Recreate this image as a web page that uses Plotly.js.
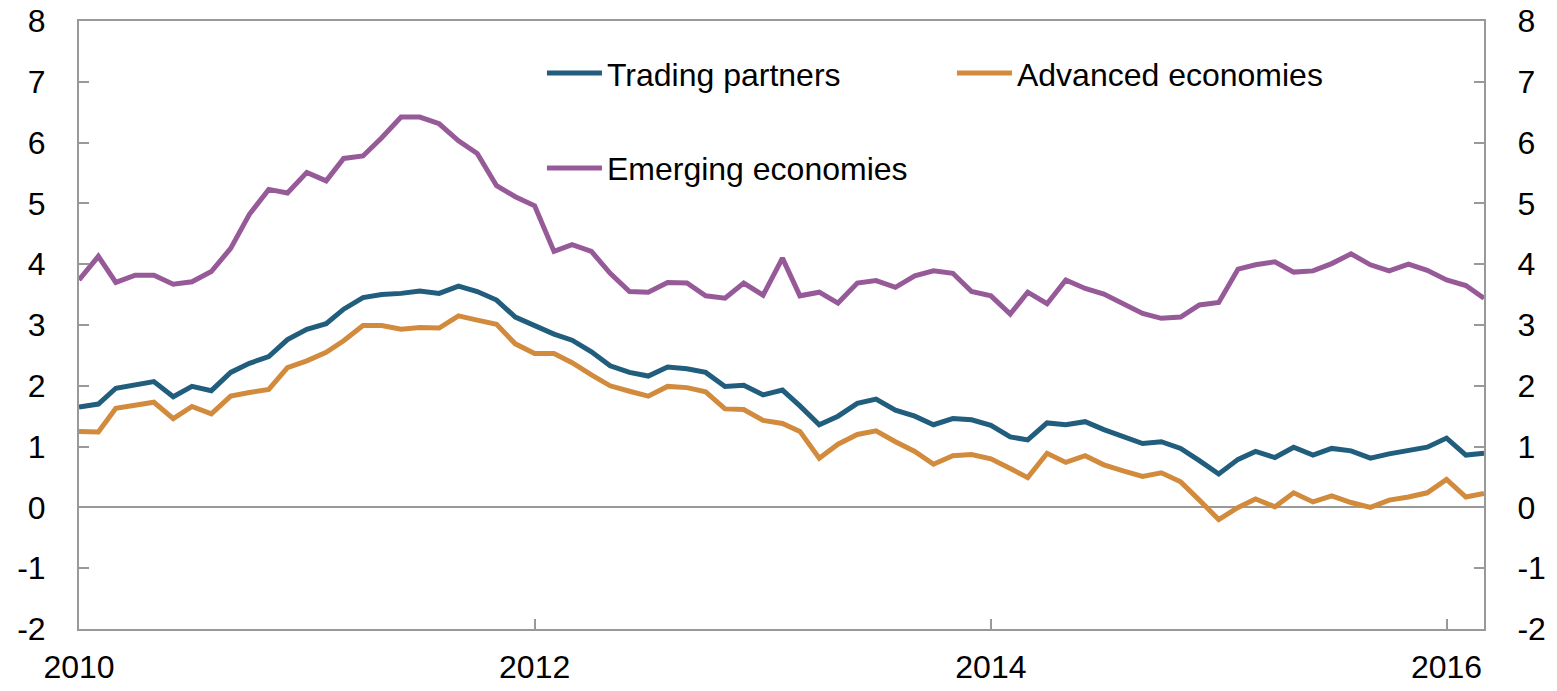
<!DOCTYPE html>
<html>
<head>
<meta charset="utf-8">
<script src="https://cdn.plot.ly/plotly-3.0.1.min.js"></script>
<style>html,body{margin:0;padding:0;background:#fff;}#chart{width:1557px;height:691px;}</style>
</head>
<body>
<div id="chart"></div>
<script>
// Monthly, Jan 2010 - Mar 2016
const startYear = 2010, startMonth = 1, nMonths = 75;
const months = [];
for (let i = 0; i < nMonths; i++) {
  const m = startMonth - 1 + i;
  const y = startYear + Math.floor(m / 12);
  const mm = (m % 12) + 1;
  months.push(y + '-' + String(mm).padStart(2, '0') + '-01');
}

const tradingPartners = [
  1.65, 1.70, 1.96, 2.02, 2.07, 1.82, 1.99, 1.92, 2.22, 2.37, 2.48, 2.76,
  2.93, 3.02, 3.26, 3.45, 3.50, 3.52, 3.56, 3.52, 3.64, 3.55, 3.41, 3.13,
  2.98, 2.85, 2.75, 2.56, 2.33, 2.22, 2.16, 2.31, 2.28, 2.22, 1.99, 2.01,
  1.85, 1.93, 1.67, 1.36, 1.50, 1.71, 1.78, 1.60, 1.50, 1.36, 1.46, 1.44,
  1.35, 1.16, 1.11, 1.39, 1.36, 1.41, 1.28, 1.17, 1.05, 1.08, 0.97, 0.77,
  0.55, 0.79, 0.92, 0.82, 0.99, 0.86, 0.97, 0.93, 0.81, 0.88, 0.94, 0.99,
  1.14, 0.86, 0.89
];

const advancedEconomies = [
  1.25, 1.24, 1.63, 1.68, 1.73, 1.46, 1.66, 1.54, 1.83, 1.89, 1.94, 2.30,
  2.41, 2.55, 2.74, 2.99, 2.99, 2.93, 2.96, 2.95, 3.15, 3.08, 3.01, 2.69,
  2.53, 2.53, 2.38, 2.18, 2.00, 1.91, 1.83, 1.99, 1.97, 1.90, 1.62, 1.61,
  1.43, 1.38, 1.25, 0.81, 1.04, 1.20, 1.26, 1.08, 0.92, 0.71, 0.85, 0.87,
  0.80, 0.64, 0.49, 0.89, 0.74, 0.85, 0.70, 0.60, 0.51, 0.57, 0.42, 0.12,
  -0.20, 0.00, 0.14, 0.01, 0.24, 0.09, 0.19, 0.08, 0.00, 0.12, 0.17, 0.24,
  0.46, 0.17, 0.23
];

const emergingEconomies = [
  3.74, 4.13, 3.70, 3.82, 3.82, 3.67, 3.71, 3.88, 4.26, 4.82, 5.23, 5.17,
  5.51, 5.37, 5.74, 5.78, 6.08, 6.42, 6.42, 6.31, 6.03, 5.82, 5.29, 5.11,
  4.96, 4.21, 4.32, 4.21, 3.85, 3.55, 3.54, 3.70, 3.69, 3.48, 3.44, 3.69,
  3.49, 4.10, 3.48, 3.54, 3.36, 3.69, 3.73, 3.62, 3.81, 3.89, 3.85, 3.55,
  3.48, 3.18, 3.54, 3.35, 3.74, 3.60, 3.51, 3.35, 3.19, 3.11, 3.13, 3.33,
  3.37, 3.92, 3.99, 4.04, 3.87, 3.89, 4.01, 4.17, 3.99, 3.89, 4.00, 3.90,
  3.74, 3.65, 3.44
];

const seriesNames = ['Trading partners', 'Advanced economies', 'Emerging economies'];
const seriesColors = ['#215d7c', '#d28b3c', '#975a98'];
const yTickVals = [-2, -1, 0, 1, 2, 3, 4, 5, 6, 7, 8];
const yTickText = yTickVals.map(v => String(v));

const FONT = 'Liberation Sans, Arial, sans-serif';
const FSIZE = 32;
const AXIS_GRAY = '#999999';
const LW = 5;

const traces = [
  {x: months, y: tradingPartners, name: seriesNames[0], legend: 'legend',
   type: 'scatter', mode: 'lines', line: {color: seriesColors[0], width: LW}},
  {x: months, y: advancedEconomies, name: seriesNames[1], legend: 'legend',
   type: 'scatter', mode: 'lines', line: {color: seriesColors[1], width: LW}},
  {x: months, y: emergingEconomies, name: seriesNames[2], legend: 'legend2', yaxis: 'y2',
   type: 'scatter', mode: 'lines', line: {color: seriesColors[2], width: LW}}
];

const yCommon = {
  range: [-2, 8], tickvals: yTickVals, ticktext: yTickText,
  ticks: 'inside', ticklen: 10, tickwidth: 2,
  tickcolor: AXIS_GRAY, showline: true, linecolor: AXIS_GRAY, linewidth: 2,
  showgrid: false, tickfont: {family: FONT, size: FSIZE, color: '#000'}, fixedrange: true
};

const layout = {
  width: 1557, height: 691,
  margin: {l: 79, r: 73, t: 21, b: 62, pad: 0},
  paper_bgcolor: '#fff', plot_bgcolor: '#fff',
  font: {family: FONT, size: FSIZE, color: '#000'},
  showlegend: true,
  xaxis: {
    type: 'date', range: [months[0], months[nMonths - 1]],
    tick0: '2010-01-01', dtick: 'M24', tickformat: '%Y',
    ticks: 'inside', ticklen: 10, tickwidth: 2, tickcolor: AXIS_GRAY,
    showline: true, linecolor: AXIS_GRAY, linewidth: 2, mirror: true,
    showgrid: false, zeroline: false, ticklabelstandoff: 9,
    tickfont: {family: FONT, size: FSIZE, color: '#000'}
  },
  yaxis: Object.assign({}, yCommon, {
    side: 'left', zeroline: true, zerolinecolor: AXIS_GRAY, zerolinewidth: 2,
    ticklabelstandoff: 25
  }),
  yaxis2: Object.assign({}, yCommon, {
    side: 'right', overlaying: 'y', zeroline: false, ticklabelstandoff: 25
  }),
  legend: {
    orientation: 'h', x: 0.3295, xanchor: 'left', y: 0.914, yanchor: 'middle',
    entrywidth: 340, entrywidthmode: 'pixels', itemwidth: 55,
    bgcolor: 'rgba(0,0,0,0)', borderwidth: 0,
    font: {family: FONT, size: FSIZE, color: '#000'}, traceorder: 'normal'
  },
  legend2: {
    orientation: 'h', x: 0.3295, xanchor: 'left', y: 0.758, yanchor: 'middle',
    itemwidth: 55, bgcolor: 'rgba(0,0,0,0)', borderwidth: 0,
    font: {family: FONT, size: FSIZE, color: '#000'}
  }
};

Plotly.newPlot('chart', traces, layout, {staticPlot: true, displayModeBar: false});
</script>
</body>
</html>
